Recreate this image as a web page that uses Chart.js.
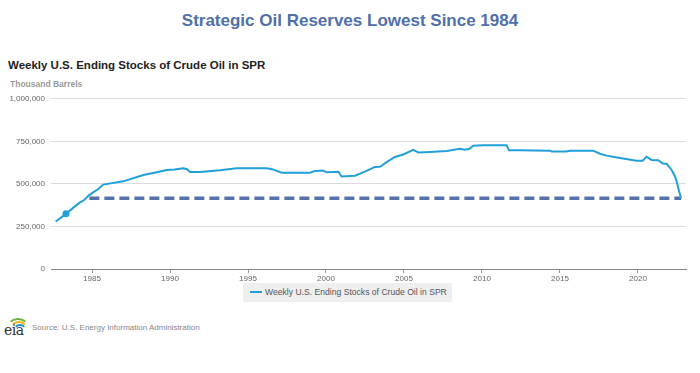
<!DOCTYPE html>
<html>
<head>
<meta charset="utf-8">
<script src="https://cdn.jsdelivr.net/npm/chart.js@4.4.1/dist/chart.umd.min.js"></script>
<style>
  body { margin: 0; width: 700px; height: 373px; background: #fff; font-family: "Liberation Sans", Arial, sans-serif; position: relative; overflow: hidden; }
  .title { position: absolute; left: 0; top: 11px; width: 700px; text-align: center; font-size: 17px; font-weight: bold; color: #5070aa; }
  .subtitle { position: absolute; left: 8px; top: 59px; font-size: 11.5px; font-weight: bold; color: #222; white-space: nowrap; }
  .units { position: absolute; left: 10px; top: 79px; font-size: 8.5px; font-weight: bold; color: #999; }
  #wrap { position: absolute; left: 0; top: 88px; width: 700px; height: 201px; }
  .legend { position: absolute; left: 243px; top: 283px; width: 209px; height: 19px; background: #efefef; font-size: 8.6px; color: #555; line-height: 19px; white-space: nowrap; }
  .legend i { display: inline-block; width: 12px; height: 2px; background: #21a0db; vertical-align: middle; margin: 0 3px 2px 7px; }
  .logo { position: absolute; left: 4px; top: 316px; width: 24px; height: 22px; }
  .logo b { position: absolute; left: 0; top: 6px; font-family: "DejaVu Serif", serif; font-weight: normal; font-size: 14px; color: #333; letter-spacing: -0.5px; }
  .arc { position: absolute; border-radius: 50%; border-style: solid; border-color: transparent; }
  .source { position: absolute; left: 32px; top: 323px; font-size: 8px; color: #888; }
</style>
</head>
<body>
<div class="title">Strategic Oil Reserves Lowest Since 1984</div>
<div class="subtitle">Weekly U.S. Ending Stocks of Crude Oil in SPR</div>
<div class="units">Thousand Barrels</div>
<div id="wrap"><canvas id="myChart"></canvas></div>
<div class="legend"><i></i>Weekly U.S. Ending Stocks of Crude Oil in SPR</div>
<div class="logo">
  <span class="arc" style="left:3px;top:2px;width:18px;height:14px;border-width:2px;border-top-color:#6cb33f;"></span>
  <span class="arc" style="left:6px;top:5px;width:14px;height:12px;border-width:2px;border-top-color:#f2b51c;"></span>
  <span class="arc" style="left:9px;top:8px;width:10px;height:10px;border-width:2px;border-top-color:#1f8fd0;"></span>
  <b>eia</b>
</div>
<div class="source">Source: U.S. Energy Information Administration</div>
<script>
const years = [1982.67, 1983.33, 1983.9, 1984.23, 1984.5, 1984.8, 1985.1, 1985.4, 1985.72, 1987.0,
  1988.29, 1989.0, 1989.79, 1990.3, 1990.85, 1991.1, 1991.28, 1991.92, 1993.2, 1994.27,
  1996.2, 1996.6, 1997.16, 1999.0, 1999.2, 1999.8, 2000.05, 2000.8, 2001.0, 2001.86,
  2002.18, 2002.6, 2003.14, 2003.46, 2003.89, 2004.42, 2004.95, 2005.6, 2005.92, 2006.67,
  2007.74, 2008.59, 2008.9, 2009.2, 2009.44, 2010.08, 2011.58, 2011.73, 2012.4, 2014.36,
  2014.47, 2015.4, 2015.64, 2017.13, 2017.56, 2018.0, 2018.85, 2019.9, 2020.3, 2020.55,
  2020.87, 2021.3, 2021.6, 2021.84, 2022.16, 2022.37, 2022.48, 2022.6, 2022.76];
const stocks = [279000, 324000, 368000, 391000, 405000, 433000, 452000, 470000, 496000, 515000,
  552000, 566000, 581000, 585000, 592000, 586000, 570000, 570000, 580000, 592000,
  592000, 585000, 566000, 566000, 574000, 578000, 568000, 571000, 543000, 548000,
  560000, 577000, 600000, 601000, 628000, 658000, 673000, 700000, 685000, 688000,
  694000, 706000, 701000, 706000, 724000, 727000, 727000, 697000, 697000, 695000,
  690000, 690000, 695000, 695000, 677000, 666000, 652000, 636000, 636000, 660000,
  641000, 639000, 620000, 618000, 582000, 545000, 514000, 470000, 416000];
const lowYears = [1984.83, 2022.76];
const lowLevel = [416000, 416000];
const xTicks = [1985, 1990, 1995, 2000, 2005, 2010, 2015, 2020];
const yTicks = [0, 250000, 500000, 750000, 1000000];

const ctx = document.getElementById('myChart').getContext('2d');
const myChart = new Chart(ctx, {
  type: 'line',
  data: {
    datasets: [{
      label: 'Weekly U.S. Ending Stocks of Crude Oil in SPR',
      data: years.map((y, i) => ({ x: y, y: stocks[i] })),
      borderColor: '#21a0db',
      backgroundColor: '#21a0db',
      borderWidth: 2,
      tension: 0,
      pointStyle: 'circle',
      pointRadius: c => c.dataIndex === 1 ? 3.5 : 0,
      pointBorderWidth: 0
    }, {
      label: 'low',
      data: lowYears.map((y, i) => ({ x: y, y: lowLevel[i] })),
      borderColor: '#5573aa',
      borderWidth: 3.5,
      borderDash: [10, 5],
      pointRadius: 0
    }]
  },
  options: {
    responsive: true,
    maintainAspectRatio: false,
    animation: false,
    layout: { padding: { top: 9, right: 14, left: 0, bottom: 0 } },
    plugins: { legend: { display: false }, tooltip: { enabled: false } },
    scales: {
      x: {
        type: 'linear',
        min: 1982.37,
        max: 2023.08,
        afterBuildTicks: s => { s.ticks = xTicks.map(v => ({ value: v })); },
        afterFit: s => { s.height = 20; },
        grid: { display: true, drawOnChartArea: false, drawTicks: true, tickLength: 4, color: '#999' },
        border: { display: true, color: '#888', width: 1 },
        ticks: { padding: 1, color: '#666', font: { size: 8, family: 'Liberation Sans' }, maxRotation: 0, callback: v => String(v) }
      },
      y: {
        min: 0,
        max: 1000000,
        afterBuildTicks: s => { s.ticks = yTicks.map(v => ({ value: v })); },
        afterFit: s => { s.width = 51; },
        grid: { color: '#dcdcdc', drawTicks: false },
        border: { display: false },
        ticks: { padding: 6, color: '#666', font: { size: 8, family: 'Liberation Sans' }, callback: v => v.toLocaleString('en-US') }
      }
    }
  }
});
</script>
</body>
</html>
